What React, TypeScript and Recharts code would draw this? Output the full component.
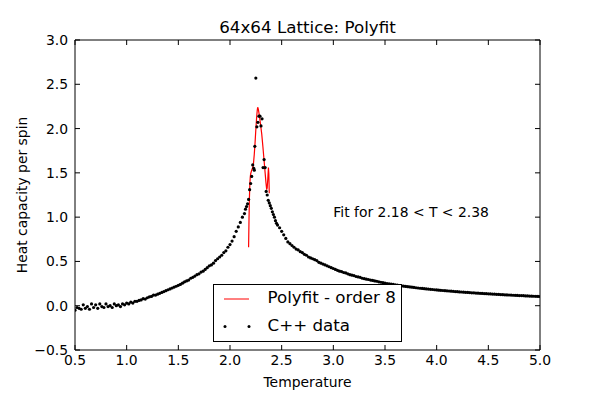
import {
  ComposedChart,
  XAxis,
  YAxis,
  Line,
  Scatter,
  Legend,
  ReferenceDot,
  Label,
} from "recharts";

const FONT = '"DejaVu Sans", sans-serif';

// Monte Carlo heat capacity, [temperature, C per spin]
const coldSide: [number, number][] = [
  [0.5, -0.05], [0.52, -0.02], [0.54, -0.03], [0.56, -0.04], [0.58, 0.01],
  [0.6, -0.03], [0.62, -0.01], [0.64, -0.04], [0.66, 0.02], [0.68, -0.02],
  [0.7, 0.01], [0.72, -0.03], [0.74, 0.02], [0.76, -0.01], [0.78, -0.02],
  [0.8, 0.02], [0.82, -0.01], [0.84, 0.0], [0.86, -0.02], [0.88, 0.02],
  [0.9, 0.0], [0.92, 0.01], [0.94, -0.01], [0.96, 0.02], [0.98, 0.01],
  [1.0, 0.03], [1.02, 0.02], [1.04, 0.04], [1.06, 0.03], [1.08, 0.05],
  [1.1, 0.05], [1.12, 0.06], [1.14, 0.065], [1.16, 0.08], [1.18, 0.075],
  [1.2, 0.09], [1.22, 0.1], [1.24, 0.105], [1.26, 0.12], [1.28, 0.12],
  [1.3, 0.13], [1.32, 0.14], [1.34, 0.15], [1.36, 0.16], [1.38, 0.17],
  [1.4, 0.18], [1.42, 0.19], [1.44, 0.2], [1.46, 0.21], [1.48, 0.22],
  [1.5, 0.23], [1.52, 0.24], [1.54, 0.255], [1.56, 0.27], [1.58, 0.28],
  [1.6, 0.29], [1.62, 0.31], [1.64, 0.32], [1.66, 0.335], [1.68, 0.35],
  [1.7, 0.36], [1.72, 0.38], [1.74, 0.39], [1.76, 0.41], [1.78, 0.43],
  [1.8, 0.45], [1.82, 0.46], [1.84, 0.48], [1.86, 0.51], [1.88, 0.53],
  [1.9, 0.55], [1.92, 0.57], [1.94, 0.6], [1.96, 0.62], [1.98, 0.66],
  [2.0, 0.69], [2.02, 0.73], [2.04, 0.78], [2.06, 0.84], [2.08, 0.89],
  [2.1, 0.94], [2.12, 1.0], [2.14, 1.04],
];

const criticalRegion: [number, number][] = [
  [2.15, 1.09], [2.16, 1.12], [2.17, 1.15], [2.18, 1.2], [2.19, 1.31],
  [2.2, 1.38], [2.21, 1.46], [2.22, 1.59], [2.23, 1.55], [2.235, 1.53],
  [2.24, 1.8], [2.25, 2.57], [2.26, 2.02], [2.27, 2.07], [2.28, 2.14],
  [2.29, 2.14], [2.3, 2.03], [2.31, 2.11], [2.32, 1.56], [2.33, 1.65],
  [2.34, 1.56], [2.35, 1.29], [2.36, 1.25], [2.37, 1.19], [2.38, 1.16],
  [2.39, 1.13], [2.4, 1.1], [2.41, 1.06], [2.42, 1.03], [2.43, 1.0],
  [2.44, 0.96], [2.45, 0.93],
];

const hotSide: [number, number][] = [
  [2.46, 0.91], [2.48, 0.88], [2.5, 0.84], [2.52, 0.8], [2.54, 0.76],
  [2.56, 0.72], [2.58, 0.7], [2.6, 0.68], [2.62, 0.66], [2.64, 0.64],
  [2.66, 0.63], [2.68, 0.61], [2.7, 0.6], [2.72, 0.58], [2.74, 0.57],
  [2.76, 0.55], [2.78, 0.54], [2.8, 0.53], [2.82, 0.52], [2.84, 0.51],
  [2.86, 0.49], [2.88, 0.48], [2.9, 0.47], [2.92, 0.46], [2.94, 0.45],
  [2.96, 0.44], [2.98, 0.43], [3.0, 0.42], [3.02, 0.41], [3.04, 0.4],
  [3.06, 0.39], [3.08, 0.385], [3.1, 0.375], [3.12, 0.37], [3.14, 0.36],
  [3.16, 0.35], [3.18, 0.345], [3.2, 0.34], [3.22, 0.33], [3.24, 0.325],
  [3.26, 0.32], [3.28, 0.31], [3.3, 0.305], [3.32, 0.3], [3.34, 0.296],
  [3.36, 0.29], [3.38, 0.285], [3.4, 0.28], [3.42, 0.276], [3.44, 0.27],
  [3.46, 0.265], [3.48, 0.26], [3.5, 0.256], [3.52, 0.25], [3.54, 0.247],
  [3.56, 0.243], [3.58, 0.24], [3.6, 0.236], [3.62, 0.232], [3.64, 0.228],
  [3.66, 0.225], [3.68, 0.221], [3.7, 0.218], [3.72, 0.215], [3.74, 0.212],
  [3.76, 0.209], [3.78, 0.206], [3.8, 0.203], [3.82, 0.2], [3.84, 0.197],
  [3.86, 0.195], [3.88, 0.192], [3.9, 0.19], [3.92, 0.188], [3.94, 0.185],
  [3.96, 0.183], [3.98, 0.18], [4.0, 0.178], [4.02, 0.176], [4.04, 0.174],
  [4.06, 0.172], [4.08, 0.17], [4.1, 0.168], [4.12, 0.166], [4.14, 0.164],
  [4.16, 0.162], [4.18, 0.16], [4.2, 0.158], [4.22, 0.156], [4.24, 0.155],
  [4.26, 0.153], [4.28, 0.151], [4.3, 0.15], [4.32, 0.148], [4.34, 0.146],
  [4.36, 0.145], [4.38, 0.143], [4.4, 0.142], [4.42, 0.14], [4.44, 0.139],
  [4.46, 0.137], [4.48, 0.136], [4.5, 0.134], [4.52, 0.133], [4.54, 0.131],
  [4.56, 0.13], [4.58, 0.129], [4.6, 0.127], [4.62, 0.126], [4.64, 0.125],
  [4.66, 0.123], [4.68, 0.122], [4.7, 0.121], [4.72, 0.12], [4.74, 0.118],
  [4.76, 0.117], [4.78, 0.116], [4.8, 0.115], [4.82, 0.114], [4.84, 0.113],
  [4.86, 0.111], [4.88, 0.11], [4.9, 0.109], [4.92, 0.108], [4.94, 0.107],
  [4.96, 0.106], [4.98, 0.105], [5.0, 0.104],
];

// 8th order polynomial evaluated over the fit window
const polyfitCurve: [number, number][] = [
  [2.18, 0.66], [2.184, 0.98], [2.188, 1.22], [2.192, 1.37], [2.196, 1.45],
  [2.2, 1.49], [2.21, 1.53], [2.22, 1.56], [2.226, 1.59], [2.235, 1.71],
  [2.242, 1.83], [2.25, 1.99], [2.258, 2.13], [2.264, 2.21], [2.268, 2.24],
  [2.274, 2.22], [2.284, 2.15], [2.295, 2.05], [2.307, 1.94], [2.318, 1.8],
  [2.329, 1.65], [2.34, 1.5], [2.348, 1.39], [2.355, 1.31], [2.36, 1.33],
  [2.366, 1.44], [2.372, 1.56], [2.376, 1.49], [2.38, 1.27],
];

const xTicks = [0.5, 1.0, 1.5, 2.0, 2.5, 3.0, 3.5, 4.0, 4.5, 5.0];
const yTicks = [-0.5, 0.0, 0.5, 1.0, 1.5, 2.0, 2.5, 3.0];

const simData = [...coldSide, ...criticalRegion, ...hotSide].map(([t, c]) => ({ t, c }));
const fitData = polyfitCurve.map(([t, c]) => ({ t, c }));

// chart geometry
const W = 600;
const H = 400;
const MARGIN = { top: 40, right: 60, bottom: 0, left: 0 };
const X_AXIS_H = 50;
const Y_AXIS_W = 75;
const PLOT_W = W - MARGIN.left - MARGIN.right - Y_AXIS_W;
const PLOT_H = H - MARGIN.top - MARGIN.bottom - X_AXIS_H;
const TICK_LEN = 5;
const X_PAD = 5;
const Y_PAD = 7;

const fmt = (v: number) => (v < 0 ? "\u2212" + (-v).toFixed(1) : v.toFixed(1));

// label plus inward tick marks on the bottom and top spines
const XTick = (p: any) => {
  const base = p.y - X_PAD;
  const top = base - PLOT_H;
  return (
    <g>
      <line x1={p.x} x2={p.x} y1={base} y2={base - TICK_LEN} stroke="#000" />
      <line x1={p.x} x2={p.x} y1={top} y2={top + TICK_LEN} stroke="#000" />
      <text x={p.x} y={p.y} dy="0.71em" textAnchor="middle" fontSize={13.9} fontFamily={FONT} fill="#000">
        {fmt(p.payload.value)}
      </text>
    </g>
  );
};

// label plus inward tick marks on the left and right spines
const YTick = (p: any) => {
  const base = p.x + Y_PAD;
  const right = base + PLOT_W;
  return (
    <g>
      <line x1={base} x2={base + TICK_LEN} y1={p.y} y2={p.y} stroke="#000" />
      <line x1={right} x2={right - TICK_LEN} y1={p.y} y2={p.y} stroke="#000" />
      <text x={p.x} y={p.y} dy="0.355em" textAnchor="end" fontSize={13.9} fontFamily={FONT} fill="#000">
        {fmt(p.payload.value)}
      </text>
    </g>
  );
};

const LegendBox = () => (
  <svg width={189} height={58} style={{ display: "block" }}>
    <rect x={0.5} y={0.5} width={188} height={57} fill="#fff" stroke="#000" />
    <line x1={11} x2={36} y1={15} y2={15} stroke="#ff0000" strokeWidth={1} />
    <text x={54.5} y={19} fontSize={16.7} fontFamily={FONT} fill="#000">
      Polyfit - order 8
    </text>
    <circle cx={12} cy={42.5} r={1.5} fill="#000" />
    <circle cx={36} cy={42.5} r={1.5} fill="#000" />
    <text x={54.5} y={46.5} fontSize={16.7} fontFamily={FONT} fill="#000">
      C++ data
    </text>
  </svg>
);

const YTitle = (props: any) => {
  const { x, y, height } = props.viewBox;
  const cx = x + 27;
  const cy = y + height / 2;
  return (
    <text
      x={cx}
      y={cy}
      transform={`rotate(-90, ${cx}, ${cy})`}
      textAnchor="middle"
      fontSize={13.9}
      fontFamily={FONT}
      fill="#000"
    >
      Heat capacity per spin
    </text>
  );
};

export default function App() {
  return (
    <div style={{ position: "absolute", left: 0, top: 0, width: W, height: H, background: "#fff" }}>
      <ComposedChart width={W} height={H} margin={MARGIN}>
        <XAxis
          dataKey="t"
          type="number"
          domain={[0.5, 5]}
          ticks={xTicks}
          interval={0}
          allowDataOverflow
          height={X_AXIS_H}
          tickLine={false}
          tickSize={0}
          tickMargin={X_PAD}
          axisLine={{ stroke: "#000" }}
          tick={XTick}
        >
          <Label
            value="Temperature"
            position="insideBottom"
            offset={13}
            fontSize={13.9}
            fontFamily={FONT}
            fill="#000"
          />
        </XAxis>
        <YAxis
          type="number"
          domain={[-0.5, 3]}
          ticks={yTicks}
          interval={0}
          allowDataOverflow
          width={Y_AXIS_W}
          tickLine={false}
          tickSize={0}
          tickMargin={Y_PAD}
          axisLine={{ stroke: "#000" }}
          tick={YTick}
        >
          <Label content={YTitle} />
        </YAxis>

        {/* top and right spines */}
        <XAxis xAxisId="topSpine" orientation="top" type="number" domain={[0.5, 5]} allowDataOverflow
          mirror tick={false} tickLine={false} axisLine={{ stroke: "#000" }} />
        <YAxis yAxisId="rightSpine" orientation="right" type="number" domain={[-0.5, 3]} allowDataOverflow
          mirror tick={false} tickLine={false} axisLine={{ stroke: "#000" }} />

        <Line
          data={fitData}
          dataKey="c"
          type="linear"
          stroke="#ff0000"
          strokeWidth={1.2}
          dot={false}
          activeDot={false}
          isAnimationActive={false}
        />
        <Scatter
          data={simData}
          dataKey="c"
          fill="#000"
          isAnimationActive={false}
          shape={(p: any) => <circle cx={p.cx} cy={p.cy} r={1.6} fill="#000" />}
        />

        <ReferenceDot
          x={3.0}
          y={1.0}
          r={0}
          ifOverflow="visible"
          shape={(p: any) => (
            <text x={p.cx} y={p.cy} fontSize={13.9} fontFamily={FONT} fill="#000">
              {"Fit for 2.18 < T < 2.38"}
            </text>
          )}
        />

        <text x={307.5} y={33} textAnchor="middle" fontSize={16.7} fontFamily={FONT} fill="#000">
          64x64 Lattice: Polyfit
        </text>

        <Legend
          layout="vertical"
          align="center"
          verticalAlign="middle"
          content={LegendBox}
          wrapperStyle={{ left: 213, top: 284, width: 189, height: 58 }}
        />
      </ComposedChart>
    </div>
  );
}
